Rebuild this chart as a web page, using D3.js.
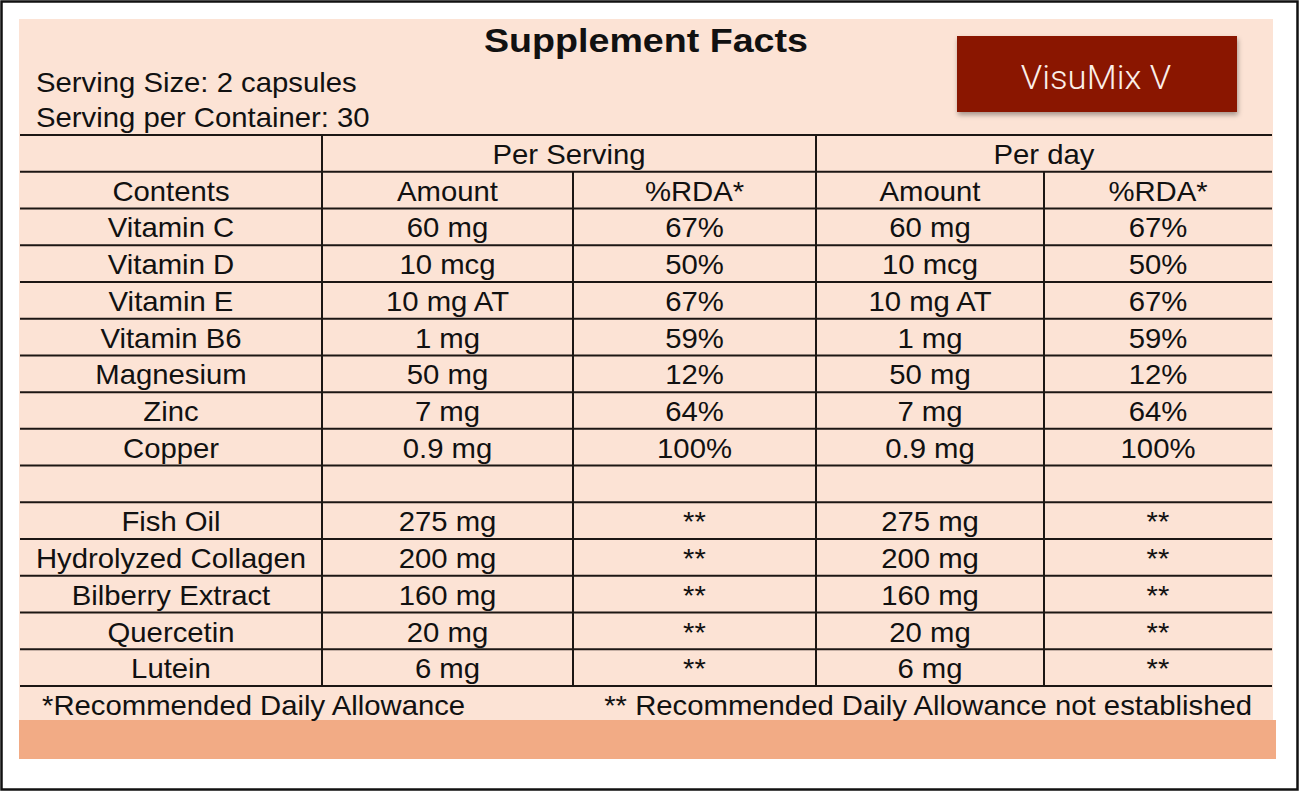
<!DOCTYPE html>
<html>
<head>
<meta charset="utf-8">
<script src="https://cdn.jsdelivr.net/npm/d3@7"></script>
<style>
  html, body { margin: 0; padding: 0; background: #ffffff; }
  svg { display: block; }
  text { font-family: "Liberation Sans", Arial, Helvetica, sans-serif; fill: #111; }
</style>
</head>
<body>
<svg id="chart" width="1300" height="793"></svg>
<script>
// ---------------- DATA ----------------
const title = "Supplement Facts";
const servingInfo = ["Serving Size: 2 capsules", "Serving per Container: 30"];
const brand = "VisuMix V";
const groupHeaders = ["Per Serving", "Per day"];
const columnHeaders = ["Contents", "Amount", "%RDA*", "Amount", "%RDA*"];
const contents = ["Vitamin C", "Vitamin D", "Vitamin E", "Vitamin B6", "Magnesium", "Zinc", "Copper", "",
                  "Fish Oil", "Hydrolyzed Collagen", "Bilberry Extract", "Quercetin", "Lutein"];
const servingAmount = ["60 mg", "10 mcg", "10 mg AT", "1 mg", "50 mg", "7 mg", "0.9 mg", "",
                       "275 mg", "200 mg", "160 mg", "20 mg", "6 mg"];
const servingRDA = ["67%", "50%", "67%", "59%", "12%", "64%", "100%", "",
                    "**", "**", "**", "**", "**"];
const dayAmount = ["60 mg", "10 mcg", "10 mg AT", "1 mg", "50 mg", "7 mg", "0.9 mg", "",
                   "275 mg", "200 mg", "160 mg", "20 mg", "6 mg"];
const dayRDA = ["67%", "50%", "67%", "59%", "12%", "64%", "100%", "",
                "**", "**", "**", "**", "**"];
const footnotes = ["*Recommended Daily Allowance", "** Recommended Daily Allowance not established"];

// ---------------- LAYOUT ----------------
const svg = d3.select("#chart");
const W = 1300, H = 793;
const panel = {x: 19, y: 19, w: 1254, h: 701};
const bar = {x: 19, y: 720, w: 1257, h: 39};
const tableLeft = 20, tableRight = 1272, tableTop = 135, tableBottom = 686;
const colEdges = [tableLeft, 322, 573, 816, 1044, tableRight];
const nRows = 2 + contents.length;
const sx = 1.085;  // horizontal stretch of the label typography

const y = d3.scaleLinear().domain([0, nRows]).range([tableTop, tableBottom]);
const colCenter = i => (colEdges[i] + colEdges[i + 1]) / 2;

// defs: drop shadow for the brand box
const defs = svg.append("defs");
const f = defs.append("filter").attr("id", "shadow").attr("x", "-10%").attr("y", "-20%").attr("width", "130%").attr("height", "160%");
f.append("feDropShadow").attr("dx", 1).attr("dy", 3).attr("stdDeviation", 2.5).attr("flood-color", "#000").attr("flood-opacity", 0.35);

// outer frame
svg.append("rect").attr("x", 1.5).attr("y", 1.5).attr("width", W - 4).attr("height", H - 5)
  .attr("fill", "#fff").attr("stroke", "#111").attr("stroke-width", 2.5);

// panel and orange bar
svg.append("rect").attr("x", panel.x).attr("y", panel.y).attr("width", panel.w).attr("height", panel.h).attr("fill", "#fce3d5");
svg.append("rect").attr("x", bar.x).attr("y", bar.y).attr("width", bar.w).attr("height", bar.h).attr("fill", "#f2ab85");

function label(txt, x, yy, opts = {}) {
  const t = svg.append("text")
    .attr("transform", `translate(${x},${yy}) scale(${opts.sx || sx},1)`)
    .attr("text-anchor", opts.anchor || "middle")
    .style("font-size", (opts.size || 27) + "px")
    .text(txt);
  if (opts.weight) t.style("font-weight", opts.weight);
  if (opts.fill) t.style("fill", opts.fill);
  if (opts.family) t.style("font-family", opts.family);
  return t;
}

// title + serving info
label(title, 646, 52, {size: 33, weight: "bold", sx: 1.14});
label(servingInfo[0], 36, 92, {anchor: "start"});
label(servingInfo[1], 36, 127, {anchor: "start"});

// brand box
svg.append("rect").attr("x", 957).attr("y", 36).attr("width", 280).attr("height", 76)
  .attr("fill", "#8a1406").attr("filter", "url(#shadow)");
label(brand, 1096, 89, {size: 34, weight: 300, fill: "#fbeee8", family: "Roboto, Lato, 'Open Sans', sans-serif", sx: 1.02});

// table lines
const lineColor = "#1c1714", lw = 2;
const hLines = d3.range(nRows + 1);
svg.append("g").selectAll("line").data(hLines).join("line")
  .attr("x1", tableLeft).attr("x2", tableRight)
  .attr("y1", d => y(d)).attr("y2", d => y(d))
  .attr("stroke", lineColor).attr("stroke-width", lw);
// vertical lines: full-height ones and sub-column ones
const vLines = [
  {x: colEdges[1], from: 0}, {x: colEdges[3], from: 0},
  {x: colEdges[2], from: 1}, {x: colEdges[4], from: 1}
];
svg.append("g").selectAll("line").data(vLines).join("line")
  .attr("x1", d => d.x).attr("x2", d => d.x)
  .attr("y1", d => y(d.from)).attr("y2", y(nRows))
  .attr("stroke", lineColor).attr("stroke-width", lw);

const base = i => y(i) + 29;

// group headers
label(groupHeaders[0], (colEdges[1] + colEdges[3]) / 2, base(0));
label(groupHeaders[1], (colEdges[3] + colEdges[5]) / 2, base(0));
// column headers
columnHeaders.forEach((h, i) => label(h, colCenter(i), base(1)));

// body
const columns = [contents, servingAmount, servingRDA, dayAmount, dayRDA];
columns.forEach((col, ci) => {
  col.forEach((v, ri) => { if (v) label(v, colCenter(ci), base(ri + 2)); });
});

// footnotes
label(footnotes[0], 42, 715, {anchor: "start"});
label(footnotes[1], 1252, 715, {anchor: "end"});
</script>
</body>
</html>
